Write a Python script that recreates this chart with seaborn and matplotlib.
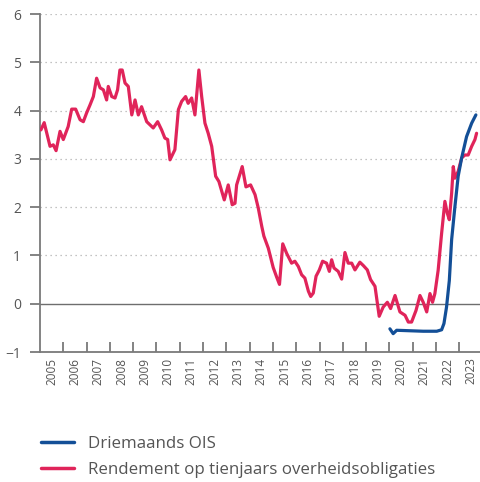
import numpy as np
import pandas as pd
import matplotlib
matplotlib.use("Agg")
import matplotlib.pyplot as plt
import seaborn as sns

# --- data (decimal years, percent) ---
red_t = [2005.04, 2005.18, 2005.43, 2005.57, 2005.69, 2005.86, 2006.00, 2006.21, 2006.36, 2006.53,
         2006.72, 2006.86, 2007.00, 2007.15, 2007.29, 2007.43, 2007.58, 2007.72, 2007.86, 2007.93,
         2008.08, 2008.22, 2008.33, 2008.43, 2008.53, 2008.65, 2008.79, 2008.94, 2009.08, 2009.22,
         2009.36, 2009.58, 2009.86, 2010.05, 2010.22, 2010.36, 2010.48, 2010.58, 2010.79, 2010.94,
         2011.08, 2011.25, 2011.36, 2011.51, 2011.65, 2011.82, 2011.94, 2012.08, 2012.22, 2012.37,
         2012.54, 2012.68, 2012.91, 2013.08, 2013.25, 2013.37, 2013.44, 2013.68, 2013.84, 2014.04,
         2014.23, 2014.37, 2014.52, 2014.61, 2014.80, 2015.01, 2015.16, 2015.28, 2015.42, 2015.59,
         2015.80, 2015.94, 2016.09, 2016.23, 2016.37, 2016.52, 2016.62, 2016.73, 2016.85, 2016.99,
         2017.13, 2017.30, 2017.42, 2017.52, 2017.62, 2017.80, 2017.95, 2018.09, 2018.23, 2018.38,
         2018.52, 2018.73, 2018.88, 2019.05, 2019.19, 2019.38, 2019.56, 2019.73, 2019.91, 2020.05,
         2020.24, 2020.45, 2020.67, 2020.81, 2020.95, 2021.14, 2021.31, 2021.45, 2021.60, 2021.74,
         2021.85, 2021.95, 2022.09, 2022.24, 2022.38, 2022.48, 2022.57, 2022.67, 2022.74, 2022.81,
         2022.95, 2023.10, 2023.24, 2023.38, 2023.53, 2023.67, 2023.74]
red_v = [3.60, 3.75, 3.26, 3.29, 3.17, 3.57, 3.40, 3.67, 4.03, 4.03,
         3.81, 3.77, 3.95, 4.12, 4.29, 4.67, 4.47, 4.43, 4.22, 4.50,
         4.29, 4.26, 4.43, 4.84, 4.84, 4.57, 4.50, 3.91, 4.22, 3.91,
         4.08, 3.77, 3.64, 3.77, 3.60, 3.43, 3.40, 2.98, 3.19, 4.02,
         4.19, 4.29, 4.15, 4.26, 3.91, 4.84, 4.29, 3.74, 3.53, 3.26,
         2.64, 2.53, 2.15, 2.46, 2.05, 2.08, 2.46, 2.84, 2.42, 2.46,
         2.26, 1.98, 1.60, 1.40, 1.15, 0.75, 0.55, 0.40, 1.24, 1.04,
         0.84, 0.88, 0.77, 0.60, 0.53, 0.26, 0.15, 0.22, 0.57, 0.70,
         0.88, 0.84, 0.67, 0.91, 0.74, 0.67, 0.51, 1.06, 0.84, 0.84,
         0.70, 0.86, 0.79, 0.70, 0.50, 0.36, -0.26, -0.07, 0.03, -0.10,
         0.17, -0.17, -0.24, -0.38, -0.38, -0.14, 0.17, 0.03, -0.17, 0.21,
         0.03, 0.21, 0.69, 1.46, 2.12, 1.88, 1.74, 2.29, 2.84, 2.60,
         2.74, 3.02, 3.08, 3.08, 3.26, 3.40, 3.53]

blue_t = [2020.02, 2020.16, 2020.31, 2020.88, 2021.45, 2022.03, 2022.24, 2022.34, 2022.45, 2022.57,
          2022.67, 2022.81, 2022.95, 2023.10, 2023.31, 2023.53, 2023.71]
blue_v = [-0.52, -0.62, -0.55, -0.56, -0.57, -0.57, -0.54, -0.41, -0.07, 0.48,
          1.33, 2.01, 2.64, 3.02, 3.46, 3.74, 3.91]

years = list(range(2005, 2024))
year_labels = [str(y) for y in years]
y_ticks = [-1, 0, 1, 2, 3, 4, 5, 6]

label_blue = "Driemaands OIS"
label_red = "Rendement op tienjaars overheidsobligaties"

RED = "#E0245A"
BLUE = "#134F97"
GRAY = "#7a7a7a"
TXT = "#555555"

sns.set_style("white")
plt.rcParams["font.family"] = ["Open Sans", "DejaVu Sans"]
plt.rcParams["xtick.bottom"] = True
plt.rcParams["ytick.left"] = True

fig = plt.figure(figsize=(4.81, 4.82), dpi=100)
ax = fig.add_axes([40 / 481, 1 - 352 / 482, 441 / 481, (352 - 14) / 482])

df_red = pd.DataFrame({"t": red_t, "v": red_v})
df_blue = pd.DataFrame({"t": blue_t, "v": blue_v})
sns.lineplot(data=df_red, x="t", y="v", ax=ax, color=RED, lw=2.3, label=label_red, zorder=3)
sns.lineplot(data=df_blue, x="t", y="v", ax=ax, color=BLUE, lw=2.3, label=label_blue, zorder=4)

ax.set_xlim(2005, 2023.93)
ax.set_ylim(-1, 6)
ax.set_xlabel("")
ax.set_ylabel("")

# grid
for yv in range(1, 7):
    ax.axhline(yv, color="#b0b0b0", lw=0.9, ls=(0, (1, 3)), zorder=1)
ax.axhline(0, color="#6e6e6e", lw=1.0, zorder=2)

# spines
for s in ["top", "right"]:
    ax.spines[s].set_visible(False)
for s in ["left", "bottom"]:
    ax.spines[s].set_color(GRAY)
    ax.spines[s].set_linewidth(1.3)

ax.set_yticks(y_ticks)
ax.set_yticklabels([("\u2212" + str(abs(v))) if v < 0 else str(v) for v in y_ticks])
ax.tick_params(axis="y", direction="out", length=7.5, width=1.3, color=GRAY,
               labelsize=10, labelcolor=TXT, pad=6, left=True)

ax.set_xticks(years[1:])
ax.set_xticklabels([])
ax.set_xticks([y + 0.5 for y in years], minor=True)
ax.set_xticklabels(year_labels, minor=True, rotation=90)
ax.tick_params(axis="x", which="major", direction="in", length=7.5, width=1.3,
               color=GRAY, bottom=True)
ax.tick_params(axis="x", which="minor", length=0, labelsize=8.5, labelcolor=TXT, pad=4,
               bottom=True)

ax.get_legend().remove()
h, l = ax.get_legend_handles_labels()
order = [l.index(label_blue), l.index(label_red)]
leg = fig.legend([h[i] for i in order], [l[i] for i in order],
                 loc="upper left", bbox_to_anchor=(34 / 481, 1 - 429 / 482),
                 frameon=False, fontsize=12.2, handlelength=1.95, handletextpad=0.85,
                 labelspacing=0.58, borderaxespad=0)
for t in leg.get_texts():
    t.set_color(TXT)
for line in leg.get_lines():
    line.set_linewidth(2.5)

fig.savefig("out.png", dpi=100)
